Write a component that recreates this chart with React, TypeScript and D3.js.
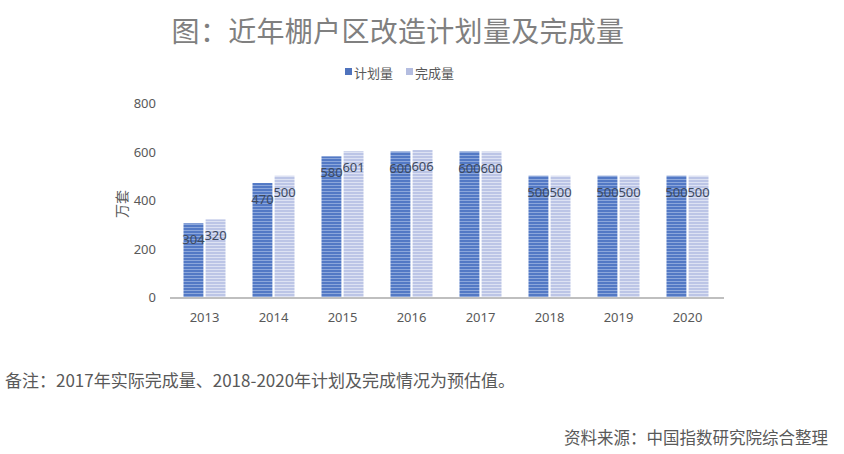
import React from "react";
import * as d3 from "d3";

const years = ["2013", "2014", "2015", "2016", "2017", "2018", "2019", "2020"];
const planValues = [304, 470, 580, 600, 600, 500, 500, 500];
const doneValues = [320, 500, 601, 606, 600, 500, 500, 500];
const seriesNames = ["计划量", "完成量"];
const yTicks = [0, 200, 400, 600, 800];

const W = 844;
const H = 454;
const margin = { left: 170, right: 122, top: 103, bottom: 157 };

export default function App() {
  const innerBottom = H - margin.bottom; // 297
  const x0 = d3
    .scaleBand<string>()
    .domain(years)
    .range([margin.left, W - margin.right])
    .paddingInner(0)
    .paddingOuter(0);
  const groupW = 42;
  const x1 = d3
    .scaleBand<string>()
    .domain(seriesNames)
    .range([0, groupW])
    .paddingInner(0.1);
  const y = d3.scaleLinear().domain([0, 800]).range([innerBottom, margin.top]);

  const series = [
    { name: seriesNames[0], values: planValues, fill: "url(#stripePlan)", legend: "#4f73bd" },
    { name: seriesNames[1], values: doneValues, fill: "url(#stripeDone)", legend: "#b4bde0" },
  ];

  const cjk = "'Noto Sans CJK SC', 'Noto Sans', sans-serif";

  return (
    <svg width={W} height={H} style={{ position: "absolute", left: 0, top: 0, background: "#fff" }}>
      <defs>
        <pattern id="stripePlan" width="6" height="3" patternUnits="userSpaceOnUse">
          <rect width="6" height="3" fill="#5379c5" />
          <rect y="2" width="6" height="1" fill="#8ca7db" />
        </pattern>
        <pattern id="stripeDone" width="6" height="3" patternUnits="userSpaceOnUse">
          <rect width="6" height="3" fill="#bcc5e6" />
          <rect y="2" width="6" height="1" fill="#dde2f3" />
        </pattern>
      </defs>
      <rect width={W} height={H} fill="#fff" />
      <text
        x={398}
        y={30}
        textAnchor="middle"
        dominantBaseline="central"
        fontFamily={cjk}
        fontSize={28}
        fill="#808080"
        letterSpacing={0.3}
      >
        图：近年棚户区改造计划量及完成量
      </text>

      {/* legend */}
      {series.map((s, i) => {
        const lx = 345 + i * 61;
        return (
          <g key={s.name}>
            <rect x={lx} y={68} width={7} height={7} fill={s.legend} />
            <text x={lx + 9} y={72} dominantBaseline="central" fontFamily={cjk} fontSize={13} fill="#595959">
              {s.name}
            </text>
          </g>
        );
      })}

      {/* y ticks */}
      {yTicks.map((t) => (
        <text
          key={t}
          x={156}
          y={y(t)}
          textAnchor="end"
          dominantBaseline="central"
          fontFamily="'Noto Sans', sans-serif"
          fontSize={13}
          fill="#595959"
        >
          {t}
        </text>
      ))}
      <text
        transform={`translate(121,${(y(0) + y(800)) / 2 + 4}) rotate(-90)`}
        textAnchor="middle"
        dominantBaseline="central"
        fontFamily={cjk}
        fontSize={14}
        fill="#595959"
      >
        万套
      </text>

      {/* bars */}
      {years.map((yr, i) => {
        const gx = (x0(yr) as number) + (x0.bandwidth() - groupW) / 2;
        return (
          <g key={yr}>
            {series.map((s) => {
              const v = s.values[i];
              const bx = gx + (x1(s.name) as number);
              return (
                <rect key={s.name} x={bx} y={y(v)} width={x1.bandwidth()} height={y(0) - y(v)} fill={s.fill} />
              );
            })}
            {series.map((s) => {
              const v = s.values[i];
              const bx = gx + (x1(s.name) as number);
              return (
                <text
                  key={s.name + "l"}
                  x={bx + x1.bandwidth() / 2}
                  y={y(v) + 16}
                  textAnchor="middle"
                  dominantBaseline="central"
                  fontFamily="'Noto Sans', sans-serif"
                  fontSize={13}
                  fill="#3e4a5e"
                >
                  {v}
                </text>
              );
            })}
            <text
              x={(x0(yr) as number) + x0.bandwidth() / 2}
              y={317}
              textAnchor="middle"
              dominantBaseline="central"
              fontFamily="'Noto Sans', sans-serif"
              fontSize={13}
              fill="#595959"
            >
              {yr}
            </text>
          </g>
        );
      })}

      {/* axis line */}
      <line x1={margin.left} x2={W - margin.right + 2} y1={y(0) + 1} y2={y(0) + 1} stroke="#bfbfbf" strokeWidth={2} />

      <text x={5} y={379} dominantBaseline="central" fontFamily={cjk} fontSize={17} fill="#595959">
        备注：2017年实际完成量、2018-2020年计划及完成情况为预估值。
      </text>
      <text x={828} y={437} textAnchor="end" dominantBaseline="central" fontFamily={cjk} fontSize={16.5} fill="#595959">
        资料来源：中国指数研究院综合整理
      </text>
    </svg>
  );
}
